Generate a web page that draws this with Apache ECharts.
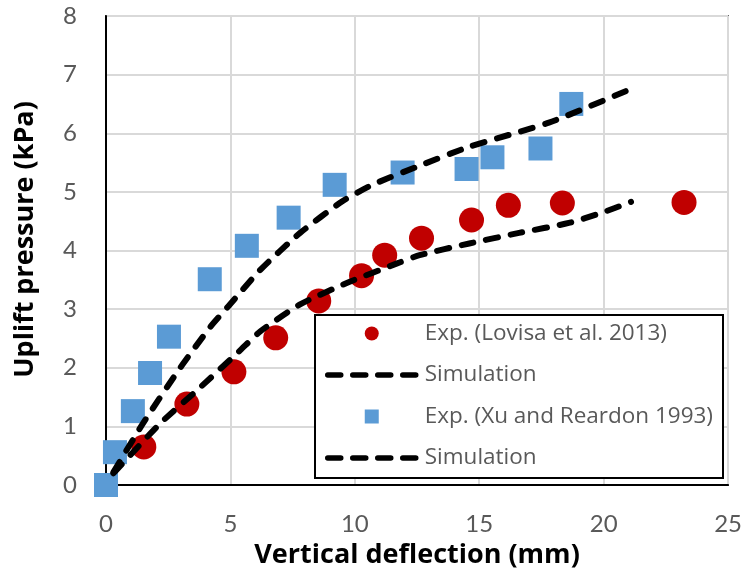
<!DOCTYPE html>
<html>
<head>
<meta charset="utf-8">
<script src="https://cdn.jsdelivr.net/npm/echarts@6/dist/echarts.min.js"></script>
<style>html,body{margin:0;padding:0;background:#fff}#c{width:745px;height:578px}</style>
</head>
<body>
<div id="c"></div>
<script>
// Data
var lovisaX = [1.52, 3.25, 5.14, 6.82, 8.55, 10.27, 11.2, 12.68, 14.69, 16.17, 18.34, 23.23];
var lovisaY = [0.65, 1.38, 1.93, 2.51, 3.14, 3.57, 3.92, 4.21, 4.52, 4.77, 4.81, 4.82];
var xuX = [0, 0.36, 1.08, 1.77, 2.53, 4.17, 5.66, 7.34, 9.19, 11.92, 14.49, 15.53, 17.46, 18.70];
var xuY = [0, 0.56, 1.26, 1.91, 2.53, 3.51, 4.08, 4.56, 5.12, 5.33, 5.39, 5.59, 5.74, 6.50];
var simLovisaX = [0.3, 1.0, 2.2, 3.8, 5.4, 6.2, 7.8, 9.7, 11.7, 12.6, 14.6, 16.6, 18.6, 19.9, 21.1];
var simLovisaY = [0.2, 0.52, 1.06, 1.67, 2.30, 2.62, 3.08, 3.45, 3.78, 3.92, 4.12, 4.30, 4.47, 4.64, 4.83];
var simXuX = [0.3, 1.5, 3.0, 4.2, 4.9, 6.2, 7.8, 9.5, 10.7, 12.5, 14.6, 17.8, 20.9];
var simXuY = [0.22, 1.06, 2.01, 2.70, 3.04, 3.67, 4.30, 4.84, 5.12, 5.43, 5.77, 6.18, 6.72];
var seriesNames = ['Exp. (Lovisa et al. 2013)', 'Simulation', 'Exp. (Xu and Reardon 1993)', 'Simulation '];
var xTicks = {min: 0, max: 25, step: 5};
var yTicks = {min: 0, max: 8, step: 1};

function pairs(xs, ys) { return xs.map(function (x, i) { return [x, ys[i]]; }); }

var TICKFONT = 'Lato';
var TEXTFONT = 'Open Sans';
var dash = {color: '#000', width: 6, type: [12, 13], cap: 'round', join: 'round'};
var hiddenMark = {color: 'rgba(0,0,0,0)', borderColor: 'rgba(0,0,0,0)', borderWidth: 0};

var chart = echarts.init(document.getElementById('c'), null, {renderer: 'canvas'});
chart.setOption({
  animation: false,
  backgroundColor: '#fff',
  grid: {left: 106, right: 16, top: 16, bottom: 93, show: true, borderColor: '#000', borderWidth: 1.5, backgroundColor: 'transparent'},
  xAxis: {
    type: 'value', min: xTicks.min, max: xTicks.max, interval: xTicks.step,
    name: 'Vertical deflection (mm)', nameLocation: 'middle', nameGap: 57,
    nameTextStyle: {fontFamily: TEXTFONT, fontWeight: 'bold', fontSize: 27, color: '#000'},
    axisLine: {show: true, lineStyle: {color: '#000', width: 2}},
    axisTick: {show: false},
    axisLabel: {fontFamily: TICKFONT, fontSize: 24, color: '#595959', margin: 27},
    splitLine: {show: true, lineStyle: {color: '#D9D9D9', width: 2}}
  },
  yAxis: {
    type: 'value', min: yTicks.min, max: yTicks.max, interval: yTicks.step,
    name: 'Uplift pressure (kPa)', nameLocation: 'middle', nameGap: 67,
    nameTextStyle: {fontFamily: TEXTFONT, fontWeight: 'bold', fontSize: 27, color: '#000', padding: [0, 0, 0, 22]},
    axisLine: {show: true, lineStyle: {color: '#000', width: 2}},
    axisTick: {show: false},
    axisLabel: {fontFamily: TICKFONT, fontSize: 24, color: '#595959', margin: 29},
    splitLine: {show: true, lineStyle: {color: '#D9D9D9', width: 2}}
  },
  legend: {
    orient: 'vertical', left: 325, top: 322, padding: 0, z: 5,
    itemWidth: 88, itemHeight: 14, itemGap: 18.5,
    textStyle: {fontFamily: TEXTFONT, fontSize: 22.5, color: '#595959', lineHeight: 20, padding: [0, 0, 0, 4]},
    lineStyle: {width: 5.5, type: [13, 12], cap: 'round'},
    data: [
      {name: seriesNames[0], icon: 'circle'},
      {name: seriesNames[1], itemStyle: hiddenMark},
      {name: seriesNames[2], icon: 'path://M0,0L10,0L10,10L0,10Z'},
      {name: seriesNames[3], itemStyle: hiddenMark}
    ],
    symbolKeepAspect: true
  },
  graphic: [{
    type: 'rect', z: 4, silent: true,
    shape: {x: 315, y: 315, width: 408, height: 163},
    style: {fill: '#fff', stroke: '#000', lineWidth: 2}
  }],
  series: [
    {name: seriesNames[0], type: 'scatter', symbol: 'circle', symbolSize: 25, clip: false,
     itemStyle: {color: '#C00000', opacity: 1}, data: pairs(lovisaX, lovisaY)},
    {name: seriesNames[1], type: 'line', symbol: 'none', smooth: 0.2, clip: false,
     lineStyle: dash, itemStyle: {color: '#000'}, data: pairs(simLovisaX, simLovisaY)},
    {name: seriesNames[2], type: 'scatter', symbol: 'rect', symbolSize: 24, clip: false,
     itemStyle: {color: '#5B9BD5', opacity: 1}, data: pairs(xuX, xuY)},
    {name: seriesNames[3], type: 'line', symbol: 'none', smooth: 0.2, clip: false,
     lineStyle: dash, itemStyle: {color: '#000'}, data: pairs(simXuX, simXuY)}
  ]
});
</script>
</body>
</html>
